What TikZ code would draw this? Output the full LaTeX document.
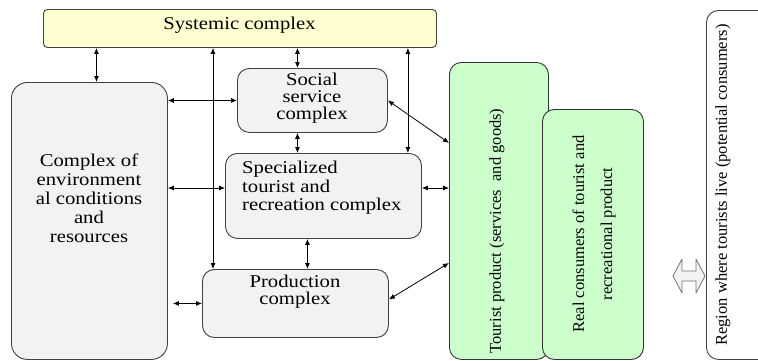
\documentclass[tikz,border=0pt]{standalone}
\usepackage{fontspec}
\setmainfont{Liberation Serif}[FakeStretch=1.15]
\newfontfamily\rotserif{Liberation Serif}
\usetikzlibrary{arrows.meta, positioning}
\definecolor{sysfill}{HTML}{FFFFD2}
\definecolor{boxfill}{HTML}{F2F2F2}
\definecolor{prodfill}{HTML}{CCFFCC}
\definecolor{edge}{HTML}{404040}

\begin{document}
\begin{tikzpicture}[
    x=1pt, y=-1pt, font=\fontsize{18}{19}\selectfont,
    sysbox/.style={draw=edge, fill=sysfill, rounded corners=4pt, line width=0.9pt, inner sep=0pt},
    cx/.style={draw=edge, fill=boxfill, rounded corners=12pt, line width=0.9pt, inner sep=0pt},
    gx/.style={draw=black!80, fill=prodfill, rounded corners=12pt, line width=0.9pt, inner sep=0pt},
    rx/.style={draw=edge, fill=white, rounded corners=12pt, line width=0.9pt, inner sep=0pt},
    txt/.style={inner sep=0pt, align=center},
    vtxt/.style={inner sep=0pt, align=center, rotate=90, font=\rotserif\fontsize{16.5}{28}\selectfont},
    flow/.style={{Latex[length=6pt,width=5pt]}-{Latex[length=6pt,width=5pt]}, line width=0.8pt},
    link/.style={draw=black!55, fill=black!5, line width=0.8pt, line join=round},
]
\useasboundingbox (0,0) rectangle (758,360);
\node[sysbox, minimum width=393pt, minimum height=38pt, anchor=north west] (sys) at (43,9) {};
\node[txt] (systxt) at (239.5,25) {Systemic complex};
\node[cx, rounded corners=16pt, minimum width=156pt, minimum height=277pt, anchor=north west] (env) at (11,82) {};
\node[txt] (envtxt) at (89,198) {Complex of\\environment\\al conditions\\and\\resources};
\node[cx, minimum width=150pt, minimum height=64pt, anchor=north west] (soc) at (237,68) {};
\node[txt, font=\fontsize{18}{17}\selectfont] (soctxt) at (312,98) {Social\\service\\complex};
\node[cx, minimum width=196pt, minimum height=85pt, anchor=north west] (spec) at (225,153) {};
\node[txt, align=left, anchor=west, font=\fontsize{18}{18.5}\selectfont] (spectxt) at (242,188) {Specialized\\tourist and\\recreation complex};
\node[cx, minimum width=186pt, minimum height=68pt, anchor=north west] (prod) at (202,269) {};
\node[txt, font=\fontsize{18}{17}\selectfont] (prodtxt) at (295,292) {Production\\complex};
\node[gx, minimum width=99pt, minimum height=297pt, anchor=north west] (tour) at (449,62) {};
\node[vtxt] (tourtxt) at (497,231) {Tourist product (services\ \ and goods)};
\node[gx, minimum width=101pt, minimum height=250pt, anchor=north west] (real) at (542,109) {};
\node[vtxt] (realtxt) at (594,234) {Real consumers of tourist and\\recreational product};
\node[rx, minimum width=80pt, minimum height=349pt, anchor=north west] (reg) at (706,10) {};
\node[vtxt] (regtxt) at (723,185) {Region where tourists live (potential consumers)};
\draw[link] (673,276) -- (682,259) -- (682,271) -- (696,271) -- (696,259) -- (705,276)
    -- (696,293) -- (696,281) -- (682,281) -- (682,293) -- cycle;

\draw[flow] ([xshift=7pt]env.north) -- ([xshift=7pt]env.north |- sys.south);
\draw[flow] ([xshift=11pt]prod.north west) -- ([xshift=11pt]prod.north west |- sys.south);
\draw[flow] ([xshift=-15pt]soc.north) -- ([xshift=-15pt]soc.north |- sys.south);
\draw[flow] ([xshift=-14pt]spec.north east) -- ([xshift=-14pt]spec.north east |- sys.south);
\draw[flow] ([xshift=-15pt]soc.south) -- ([xshift=-15pt]soc.south |- spec.north);
\draw[flow] ([xshift=-16pt]spec.south) -- ([xshift=-16pt]spec.south |- prod.north);
\draw[flow] (env.east |- soc.west) -- (soc.west);
\draw[flow] (env.east |- spectxt.west) -- (spec.west |- spectxt.west);
\draw[flow, shorten <=5pt] (env.east |- prod.west) -- (prod.west);
\draw[flow] (soc.east) -- ([yshift=68pt]tour.west);
\draw[flow] (spec.east |- spectxt.west) -- (tour.west |- spectxt.west);
\draw[flow] ([yshift=4pt]prod.east) -- ([yshift=-52pt]tour.west);
\end{tikzpicture}
\end{document}
